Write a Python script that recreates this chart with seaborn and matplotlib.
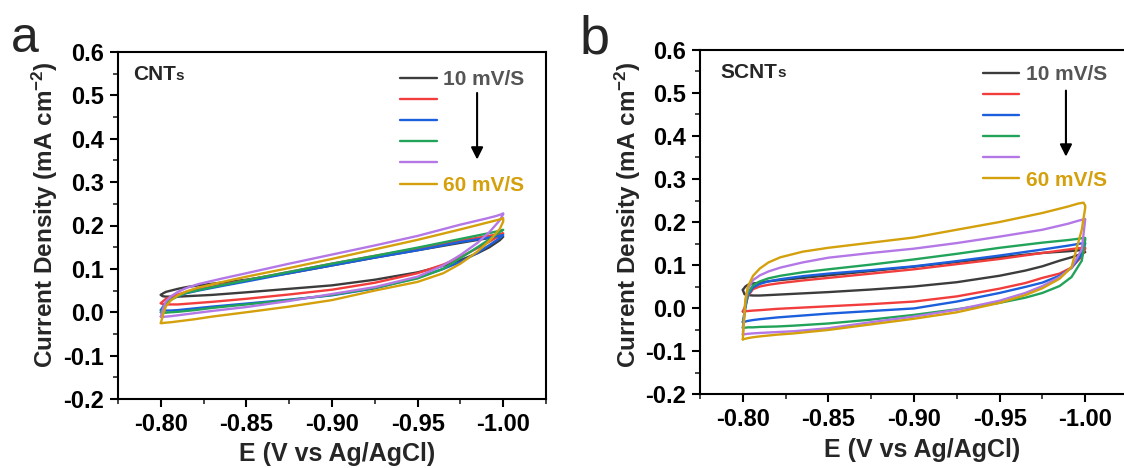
import numpy as np
import pandas as pd
import matplotlib
matplotlib.use("Agg")
import matplotlib.pyplot as plt
import seaborn as sns
from matplotlib.ticker import MultipleLocator, FormatStrFormatter

# ---------------- data ----------------
RATES = ["10 mV/S", "20 mV/S", "30 mV/S", "40 mV/S", "50 mV/S", "60 mV/S"]
COLORS = ["#3c3c3c", "#f23d3d", "#1b5fdc", "#22a35a", "#b478e6", "#d4a00c"]
LEGEND_LABELS = ["10 mV/S", "", "", "", "", "60 mV/S"]
LEGEND_TEXT_COLORS = ["#555555", "#ffffff", "#ffffff", "#ffffff", "#ffffff", "#d4a00c"]

# potential points of the forward (lower) and reverse (upper) branches
X_LOWER = [-0.800, -0.801, -0.803, -0.806, -0.81, -0.82, -0.83, -0.85, -0.875, -0.90,
           -0.925, -0.95, -0.965, -0.975, -0.985, -0.992, -0.998, -1.000]
X_UPPER = [-1.000, -0.999, -0.996, -0.99, -0.975, -0.95, -0.925, -0.90, -0.875, -0.85,
           -0.835, -0.822, -0.815, -0.81, -0.806, -0.803, -0.8015, -0.800]

# panel a: CNTs
A_LOWER = [
    [0.040, 0.037, 0.036, 0.036, 0.036, 0.038, 0.040, 0.046, 0.054, 0.062, 0.075, 0.092, 0.107, 0.120, 0.136, 0.150, 0.166, 0.174],
    [0.021, 0.019, 0.018, 0.018, 0.018, 0.021, 0.024, 0.031, 0.041, 0.052, 0.068, 0.090, 0.110, 0.127, 0.148, 0.163, 0.177, 0.182],
    [0.005, 0.004, 0.004, 0.004, 0.005, 0.009, 0.013, 0.020, 0.029, 0.039, 0.055, 0.080, 0.100, 0.116, 0.137, 0.155, 0.171, 0.178],
    [0.000, -0.001, -0.001, 0.000, 0.001, 0.005, 0.010, 0.018, 0.028, 0.040, 0.056, 0.078, 0.100, 0.125, 0.150, 0.168, 0.185, 0.190],
    [-0.010, -0.011, -0.010, -0.009, -0.007, -0.002, 0.003, 0.012, 0.026, 0.042, 0.058, 0.082, 0.108, 0.132, 0.160, 0.185, 0.212, 0.226],
    [-0.025, -0.025, -0.024, -0.023, -0.021, -0.016, -0.010, 0.000, 0.013, 0.028, 0.050, 0.070, 0.090, 0.112, 0.140, 0.165, 0.192, 0.209],
]
A_UPPER = [
    [0.174, 0.175, 0.173, 0.170, 0.160, 0.143, 0.126, 0.108, 0.090, 0.075, 0.068, 0.062, 0.058, 0.054, 0.050, 0.047, 0.044, 0.040],
    [0.182, 0.181, 0.179, 0.175, 0.165, 0.147, 0.130, 0.112, 0.093, 0.074, 0.063, 0.053, 0.047, 0.041, 0.036, 0.031, 0.026, 0.021],
    [0.178, 0.177, 0.175, 0.171, 0.162, 0.143, 0.126, 0.108, 0.090, 0.071, 0.060, 0.050, 0.044, 0.037, 0.030, 0.022, 0.014, 0.005],
    [0.190, 0.189, 0.186, 0.181, 0.169, 0.149, 0.130, 0.112, 0.093, 0.074, 0.062, 0.051, 0.045, 0.037, 0.029, 0.020, 0.011, 0.000],
    [0.228, 0.226, 0.222, 0.216, 0.202, 0.176, 0.154, 0.133, 0.112, 0.090, 0.077, 0.065, 0.056, 0.047, 0.037, 0.025, 0.010, -0.010],
    [0.217, 0.215, 0.212, 0.206, 0.191, 0.167, 0.145, 0.123, 0.102, 0.082, 0.069, 0.057, 0.048, 0.039, 0.028, 0.014, -0.003, -0.025],
]

# panel b: SCNTs
B_LOWER = [
    [0.042, 0.032, 0.030, 0.029, 0.029, 0.031, 0.033, 0.037, 0.043, 0.050, 0.060, 0.075, 0.087, 0.097, 0.110, 0.118, 0.126, 0.130],
    [-0.008, -0.008, -0.007, -0.006, -0.005, -0.002, 0.000, 0.004, 0.009, 0.015, 0.027, 0.045, 0.058, 0.070, 0.080, 0.094, 0.120, 0.138],
    [-0.033, -0.032, -0.030, -0.028, -0.026, -0.022, -0.019, -0.013, -0.007, -0.001, 0.015, 0.035, 0.049, 0.059, 0.075, 0.093, 0.125, 0.150],
    [-0.046, -0.046, -0.045, -0.045, -0.044, -0.043, -0.041, -0.036, -0.027, -0.016, -0.003, 0.012, 0.024, 0.035, 0.051, 0.072, 0.110, 0.159],
    [-0.062, -0.061, -0.060, -0.059, -0.058, -0.056, -0.054, -0.047, -0.033, -0.020, -0.004, 0.017, 0.035, 0.051, 0.072, 0.094, 0.136, 0.206],
    [-0.073, -0.072, -0.070, -0.068, -0.066, -0.062, -0.059, -0.051, -0.038, -0.025, -0.010, 0.012, 0.030, 0.046, 0.068, 0.095, 0.182, 0.233],
]
B_UPPER = [
    [0.130, 0.134, 0.134, 0.132, 0.128, 0.118, 0.107, 0.096, 0.086, 0.076, 0.070, 0.065, 0.062, 0.059, 0.057, 0.054, 0.050, 0.042],
    [0.140, 0.140, 0.139, 0.136, 0.128, 0.114, 0.102, 0.090, 0.080, 0.070, 0.064, 0.058, 0.054, 0.050, 0.044, 0.028, 0.005, -0.008],
    [0.151, 0.151, 0.149, 0.145, 0.136, 0.122, 0.109, 0.097, 0.088, 0.080, 0.074, 0.067, 0.062, 0.056, 0.048, 0.030, 0.000, -0.033],
    [0.163, 0.163, 0.161, 0.158, 0.152, 0.140, 0.126, 0.113, 0.101, 0.090, 0.083, 0.075, 0.069, 0.062, 0.053, 0.035, 0.005, -0.046],
    [0.207, 0.206, 0.203, 0.196, 0.182, 0.166, 0.151, 0.138, 0.128, 0.117, 0.106, 0.094, 0.085, 0.076, 0.065, 0.045, 0.015, -0.062],
    [0.238, 0.245, 0.243, 0.236, 0.221, 0.200, 0.182, 0.164, 0.152, 0.140, 0.131, 0.118, 0.106, 0.092, 0.075, 0.050, 0.020, -0.073],
]

PANELS = [("a", "CNTs", A_LOWER, A_UPPER), ("b", "SCNTs", B_LOWER, B_UPPER)]
X_TICKS = [-0.80, -0.85, -0.90, -0.95, -1.00]
Y_TICKS = [-0.2, -0.1, 0.0, 0.1, 0.2, 0.3, 0.4, 0.5, 0.6]

# ---------------- style ----------------
sns.set_style("ticks")
plt.rcParams["font.family"] = ["Liberation Sans", "DejaVu Sans"]
plt.rcParams["axes.unicode_minus"] = False
plt.rcParams["mathtext.default"] = "regular"

W, H = 1124, 468
fig = plt.figure(figsize=(W / 100, H / 100), dpi=100)

# axes rectangles in pixels (left, top, right, bottom)
RECTS = [(118, 52, 546, 399), (700, 50, 1128, 394)]
YLAB_POS = [(-0.136, 0.53), (-0.133, 0.52)]
XLAB_POS = [(0.513, -0.125), (0.519, -0.128)]
LETTER_POS = [(11, 52), (580, 53)]
LETTER_SIZE = [36, 39]
NAME_X = [0.035, 0.047]
LEG_ANCHOR = [(0.659, 0.947), (0.661, 0.956)]
ARROW_X = [0.839, 0.855]

for i, (letter, name, lower, upper) in enumerate(PANELS):
    l, t, r, b = RECTS[i]
    ax = fig.add_axes([l / W, 1 - b / H, (r - l) / W, (b - t) / H])
    handles = []
    for k in range(len(RATES)):
        df = pd.DataFrame({"E": X_LOWER + X_UPPER, "J": lower[k] + upper[k]})
        sns.lineplot(data=df, x="E", y="J", sort=False, estimator=None,
                     color=COLORS[k], lw=1.7, ax=ax)
        ax.lines[-1].set_solid_joinstyle("round")
        handles.append(ax.lines[-1])

    ax.set_xlim(-0.775, -1.025)
    ax.set_ylim(-0.2, 0.6)
    ax.set_xticks(X_TICKS)
    ax.set_yticks(Y_TICKS)
    ax.xaxis.set_major_formatter(FormatStrFormatter("%.2f"))
    ax.yaxis.set_major_formatter(FormatStrFormatter("%.1f"))
    ax.xaxis.set_minor_locator(MultipleLocator(0.025))
    ax.yaxis.set_minor_locator(MultipleLocator(0.05))
    ax.tick_params(which="major", direction="out", length=6, width=1.5,
                   labelsize=17, pad=4, colors="black")
    ax.tick_params(which="minor", direction="out", length=3.5, width=1.2)
    for lab in ax.get_xticklabels() + ax.get_yticklabels():
        lab.set_fontweight("bold")
    for sp in ax.spines.values():
        sp.set_linewidth(1.5)
        sp.set_color("black")
        sp.set_visible(True)

    ax.set_xlabel("E (V vs Ag/AgCl)", fontsize=18, fontweight="bold")
    ax.set_ylabel("Current Density (mA cm$^{-2}$)", fontsize=17.5, fontweight="bold")
    ax.xaxis.set_label_coords(*XLAB_POS[i])
    ax.yaxis.set_label_coords(*YLAB_POS[i])

    # sample name with small trailing "s"
    main = ax.text(NAME_X[i], 0.935, name[:-1], transform=ax.transAxes,
                   fontsize=15, fontweight="bold", va="center", ha="left")
    ax.annotate(name[-1], xy=(1.0, 0.08), xycoords=main, fontsize=11,
                fontweight="bold", va="bottom", ha="left")

    ax.legend(handles, LEGEND_LABELS, loc="upper left",
              bbox_to_anchor=LEG_ANCHOR[i],
              frameon=False, borderpad=0, borderaxespad=0,
              handlelength=1.75, handletextpad=0.3, labelspacing=0.1,
              prop={"size": 15, "weight": "bold"},
              labelcolor=LEGEND_TEXT_COLORS)

    ax.annotate("", xy=(ARROW_X[i], 0.69), xytext=(ARROW_X[i], 0.882),
                xycoords="axes fraction",
                arrowprops=dict(arrowstyle="-|>", lw=1.5, color="black",
                                mutation_scale=18, shrinkA=0, shrinkB=0))

    fig.text(LETTER_POS[i][0] / W, 1 - LETTER_POS[i][1] / H, letter,
             fontsize=LETTER_SIZE[i], ha="left", va="baseline")

fig.savefig("out.png", dpi=100, facecolor="white")
